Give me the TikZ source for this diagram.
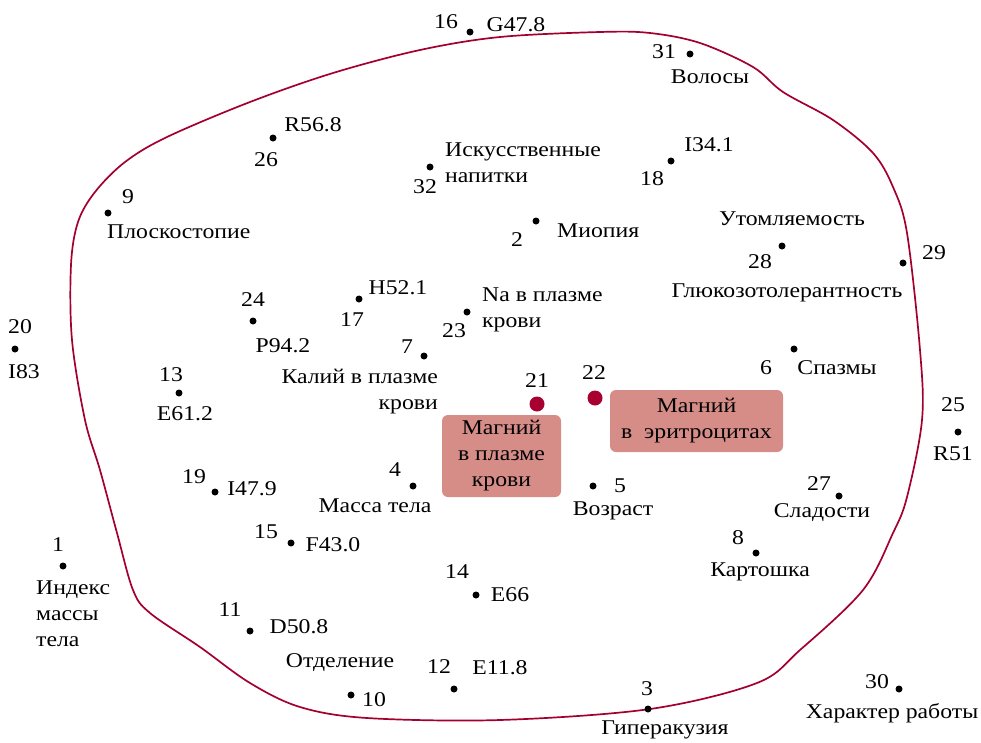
\documentclass[tikz,border=0pt]{standalone}
\usepackage{fontspec}
\setmainfont{Liberation Serif}[FakeStretch=1.13]
\definecolor{curvecol}{HTML}{A3002F}
\definecolor{reddot}{HTML}{A80030}
\definecolor{boxfill}{HTML}{D68C87}
\begin{document}
\begin{tikzpicture}[x=1pt,y=-1pt,
  dot/.style={circle,fill=black,inner sep=0pt,minimum size=7pt},
  bigdot/.style={circle,fill=reddot,inner sep=0pt,minimum size=15pt},
  lbl/.style={inner sep=0pt,font=\fontsize{21}{26}\selectfont},
  mbox/.style={rounded corners=6pt,fill=boxfill,inner sep=0pt,align=center,font=\fontsize{21}{26}\selectfont},
  boundary/.style={draw=curvecol,line width=1.7pt}]
\useasboundingbox (0,0) rectangle (981,742);
% boundary
\draw[boundary] plot[smooth cycle,tension=0.55] coordinates {
 (500,37) (600,32) (650,33) (700,43) (753,67) (783,92) (833,120) (873,153)
 (893,187) (907,233) (920,350) (922,420) (907,497) (893,533) (863,590)
 (800,650) (757,683) (650,709) (500,720) (367,718) (300,707) (250,683)
 (200,647) (150,613) (133,590) (117,533) (100,470) (85,420) (72,340)
 (71,265) (78,222) (95,192) (125,162) (167,137) (250,102) (333,73) (420,50)};
% boxes
\node[mbox,minimum width=119pt,minimum height=82pt] (bplasma) at (501.5,456) {Магний\\в плазме\\крови};
\node[mbox,minimum width=173pt,minimum height=62pt] (berythro) at (696.5,421) {Магний\\в\ \ эритроцитах};
% red dots
\node[bigdot] (d21) at (537,404) {};
\node[lbl] (n21) at (537,381) {21};
\node[bigdot] (d22) at (595,398) {};
\node[lbl] (n22) at (594,373) {22};
% points
\node[dot] (d16) at (470,32) {};
\node[lbl] (n16) at (446,22) {16};
\node[lbl] (t16) at (516,25) {G47.8};
\node[dot] (d31) at (690,54) {};
\node[lbl] (n31) at (664,52) {31};
\node[lbl] (t31) at (710,77) {Волосы};
\node[dot] (d26) at (273,138) {};
\node[lbl] (t26) at (313,125) {R56.8};
\node[lbl] (n26) at (266,160) {26};
\node[dot] (d32) at (430,167) {};
\node[lbl,align=left,anchor=west] (t32) at (445,163) {Искусственные\\напитки};
\node[lbl] (n32) at (425,187) {32};
\node[dot] (d18) at (671,161) {};
\node[lbl] (t18) at (709,145) {I34.1};
\node[lbl] (n18) at (652,179) {18};
\node[dot] (d9) at (108,213) {};
\node[lbl] (n9) at (128,197) {9};
\node[lbl,anchor=west] (t9) at (107,232) {Плоскостопие};
\node[dot] (d2) at (536,221) {};
\node[lbl,anchor=west] (t2) at (557,231) {Миопия};
\node[lbl] (n2) at (517,240) {2};
\node[lbl] (t28a) at (792,219) {Утомляемость};
\node[dot] (d28) at (782,246) {};
\node[lbl] (n28) at (760,262) {28};
\node[lbl] (t28b) at (787,293) {Глюкозотолерантность};
\node[dot] (d29) at (903,263) {};
\node[lbl] (n29) at (934,253) {29};
\node[dot] (d24) at (253,321) {};
\node[lbl] (n24) at (253,300) {24};
\node[lbl] (t24) at (283,346) {P94.2};
\node[dot] (d17) at (359,299) {};
\node[lbl] (t17) at (398,288) {H52.1};
\node[lbl] (n17) at (352,320) {17};
\node[dot] (d23) at (467,312) {};
\node[lbl] (n23) at (454,331) {23};
\node[lbl,align=left,anchor=west] (t23) at (482,310) {Na в плазме\\крови};
\node[dot] (d20) at (15,349) {};
\node[lbl] (n20) at (20,327) {20};
\node[lbl] (t20) at (24,372) {I83};
\node[dot] (d7) at (424,356) {};
\node[lbl] (n7) at (407,347) {7};
\node[lbl,align=right,anchor=east] (t7) at (438,392) {Калий в плазме\\крови};
\node[dot] (d6) at (794,349) {};
\node[lbl] (n6) at (766,368) {6};
\node[lbl] (t6) at (837,368) {Спазмы};
\node[dot] (d13) at (179,393) {};
\node[lbl] (n13) at (171,375) {13};
\node[lbl] (t13) at (185,414) {E61.2};
\node[dot] (d25) at (958,432) {};
\node[lbl] (n25) at (953,405) {25};
\node[lbl] (t25) at (953,454) {R51};
\node[dot] (d4) at (413,486) {};
\node[lbl] (n4) at (395,470) {4};
\node[lbl] (t4) at (375,506) {Масса тела};
\node[dot] (d5) at (593,486) {};
\node[lbl] (n5) at (620,486) {5};
\node[lbl] (t5) at (613,511) {Возраст};
\node[dot] (d19) at (215,492) {};
\node[lbl] (n19) at (194,477) {19};
\node[lbl] (t19) at (252,489) {I47.9};
\node[dot] (d27) at (839,496) {};
\node[lbl] (n27) at (819,484) {27};
\node[lbl] (t27) at (822,513) {Сладости};
\node[dot] (d1) at (63,566) {};
\node[lbl] (n1) at (58,545) {1};
\node[lbl,align=left,anchor=west] (t1) at (36,614) {Индекс\\массы\\тела};
\node[dot] (d15) at (291,543) {};
\node[lbl] (n15) at (266,532) {15};
\node[lbl] (t15) at (333,545) {F43.0};
\node[dot] (d8) at (756,553) {};
\node[lbl] (n8) at (738,538) {8};
\node[lbl] (t8) at (760,572) {Картошка};
\node[dot] (d14) at (476,595) {};
\node[lbl] (n14) at (457,572) {14};
\node[lbl] (t14) at (510,595) {E66};
\node[dot] (d11) at (250,631) {};
\node[lbl] (n11) at (230,610) {11};
\node[lbl] (t11) at (299,627) {D50.8};
\node[lbl] (t10b) at (340,663) {Отделение};
\node[dot] (d10) at (351,695) {};
\node[lbl] (n10) at (374,700) {10};
\node[dot] (d12) at (454,689) {};
\node[lbl] (n12) at (439,667) {12};
\node[lbl] (t12) at (500,668) {E11.8};
\node[dot] (d3) at (648,709) {};
\node[lbl] (n3) at (647,689) {3};
\node[lbl] (t3) at (665,730) {Гиперакузия};
\node[dot] (d30) at (899,689) {};
\node[lbl] (n30) at (877,682) {30};
\node[lbl] (t30) at (892,713) {Характер работы};
\end{tikzpicture}
\end{document}
